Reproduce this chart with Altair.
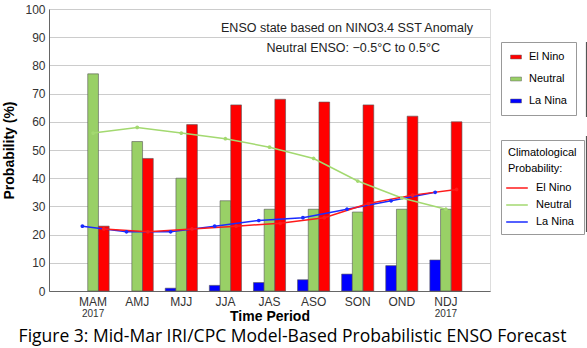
import altair as alt
import pandas as pd

periods = ["MAM", "AMJ", "MJJ", "JJA", "JAS", "ASO", "SON", "OND", "NDJ"]
series_order = ["La Nina", "Neutral", "El Nino"]
legend_order = ["El Nino", "Neutral", "La Nina"]

la_nina = [0, 0, 1, 2, 3, 4, 6, 9, 11]
neutral = [77, 53, 40, 32, 29, 29, 28, 29, 29]
el_nino = [23, 47, 59, 66, 68, 67, 66, 62, 60]

clim_la_nina = [23, 21, 21, 23, 25, 26, 29, 32, 35]
clim_neutral = [56, 58, 56, 54, 51, 47, 39, 33, 29]
clim_el_nino = [22, 21, 22, 23, 24, 26, 31, 34, 36]

year_periods = ["MAM", "NDJ"]
year_labels = ["2017", "2017"]

bar_colors = ["#ff0000", "#99d066", "#0000ff"]
line_colors = ["#ff1a1a", "#a3d970", "#1a2bff"]

bar_rows = []
line_rows = []
for name, vals, cvals in [("La Nina", la_nina, clim_la_nina),
                          ("Neutral", neutral, clim_neutral),
                          ("El Nino", el_nino, clim_el_nino)]:
    for p, v, c in zip(periods, vals, cvals):
        bar_rows.append({"period": p, "series": name, "value": v})
        line_rows.append({"period": p, "series": name, "clim": name, "value": c})
bar_df = pd.DataFrame(bar_rows)
line_df = pd.DataFrame(line_rows)
year_df = pd.DataFrame({"period": year_periods, "yr": year_labels})

FONT = "Liberation Sans"

x_enc = alt.X(
    "period:N", sort=periods,
    scale=alt.Scale(paddingInner=0, paddingOuter=0.5),
    axis=alt.Axis(title="Time Period", labelAngle=0, ticks=False, labelPadding=5,
                  labelFontSize=12, labelFont=FONT, labelColor="#333",
                  titleFont=FONT, titleFontSize=14, titleFontWeight="bold",
                  titleColor="black", titleY=29, titleBaseline="alphabetic",
                  domainColor="#666", grid=False),
)
xoff_enc = alt.XOffset("series:N", sort=series_order,
                       scale=alt.Scale(paddingOuter=0.56, paddingInner=0))
y_enc = alt.Y(
    "value:Q", scale=alt.Scale(domain=[0, 100]),
    axis=alt.Axis(title="Probability (%)", values=list(range(0, 101, 10)),
                  ticks=False, labelPadding=4, labelFontSize=12, labelFont=FONT,
                  labelColor="#333", titleFont=FONT, titleFontSize=14,
                  titleFontWeight="bold", titleColor="black", titlePadding=8,
                  domainColor="#666", gridColor="#cccccc"),
)

bars = alt.Chart(bar_df).transform_filter("datum.value > 0").mark_bar(
    stroke="#555555", strokeWidth=0.6).encode(
    x=x_enc, xOffset=xoff_enc, y=y_enc,
    fill=alt.Fill("series:N",
                  scale=alt.Scale(domain=legend_order, range=bar_colors),
                  legend=alt.Legend(orient="none", legendX=452, legendY=33,
                                    title=None, strokeColor="#999", fillColor="white",
                                    padding=9, symbolType="M-1,-0.36H1V0.36H-1Z",
                                    symbolSize=121, symbolStrokeColor="#666",
                                    symbolStrokeWidth=0.5, symbolOpacity=1,
                                    labelFont=FONT, labelFontSize=11, labelColor="black",
                                    labelOffset=7, rowPadding=11)),
)

lines = alt.Chart(line_df).mark_line(
    strokeWidth=1.5,
    point=alt.OverlayMarkDef(filled=False, size=3, strokeWidth=2)
).encode(
    x=x_enc, xOffset=xoff_enc, y=y_enc,
    stroke=alt.Stroke("clim:N", sort=legend_order,
                      scale=alt.Scale(range=line_colors),
                      legend=alt.Legend(orient="none", legendX=452, legendY=131,
                                        title=["Climatological", "Probability:"],
                                        titleFont=FONT, titleFontSize=11,
                                        titleFontWeight="normal", titleColor="black",
                                        titleLineHeight=16, titlePadding=5,
                                        strokeColor="#999", fillColor="white",
                                        padding=7, symbolType="M-1.35,0H1.35",
                                        symbolSize=256, symbolStrokeWidth=1.5,
                                        labelFont=FONT, labelFontSize=11,
                                        labelColor="black", labelOffset=10,
                                        rowPadding=3)),
)

years = alt.Chart(year_df).mark_text(font=FONT, fontSize=10, color="#333",
                                     baseline="middle").encode(
    x=alt.X("period:N", sort=periods), y=alt.value(305), text="yr:N")

note1 = alt.Chart(pd.DataFrame({"t": ["ENSO state based on NINO3.4 SST Anomaly"]})).mark_text(
    font=FONT, fontSize=12.5, align="right", baseline="middle", color="#222"
).encode(x=alt.value(424), y=alt.value(19), text="t:N")
note2 = alt.Chart(pd.DataFrame({"t": ["Neutral ENSO: \u22120.5\u00b0C to 0.5\u00b0C"]})).mark_text(
    font=FONT, fontSize=12.5, align="right", baseline="middle", color="#222"
).encode(x=alt.value(391), y=alt.value(39), text="t:N")

edge = alt.Chart(pd.DataFrame({"k": [0]})).mark_rule(color="#555", strokeWidth=1.2).encode(
    x=alt.value(537.5), y=alt.value(33), y2=alt.value(108))
edge2 = alt.Chart(pd.DataFrame({"k": [0]})).mark_rule(color="#555", strokeWidth=1.2).encode(
    x=alt.value(537.5), y=alt.value(127), y2=alt.value(223))

chart = alt.layer(bars, lines, years, note1, note2, edge, edge2).properties(
    width=441, height=282,
    title=alt.TitleParams("Figure 3: Mid-Mar IRI/CPC Model-Based Probabilistic ENSO Forecast",
                          orient="bottom", anchor="middle", font="Open Sans",
                          fontSize=17.5, fontWeight="normal", color="black",
                          offset=5, dx=23),
    autosize=alt.AutoSizeParams(type="none"),
    padding={"left": 49, "top": 9, "right": 97, "bottom": 57},
).configure_view(stroke="#777", strokeWidth=1).configure(background="white")

chart.save("out.html", embed_options={"renderer": "svg", "actions": False})
